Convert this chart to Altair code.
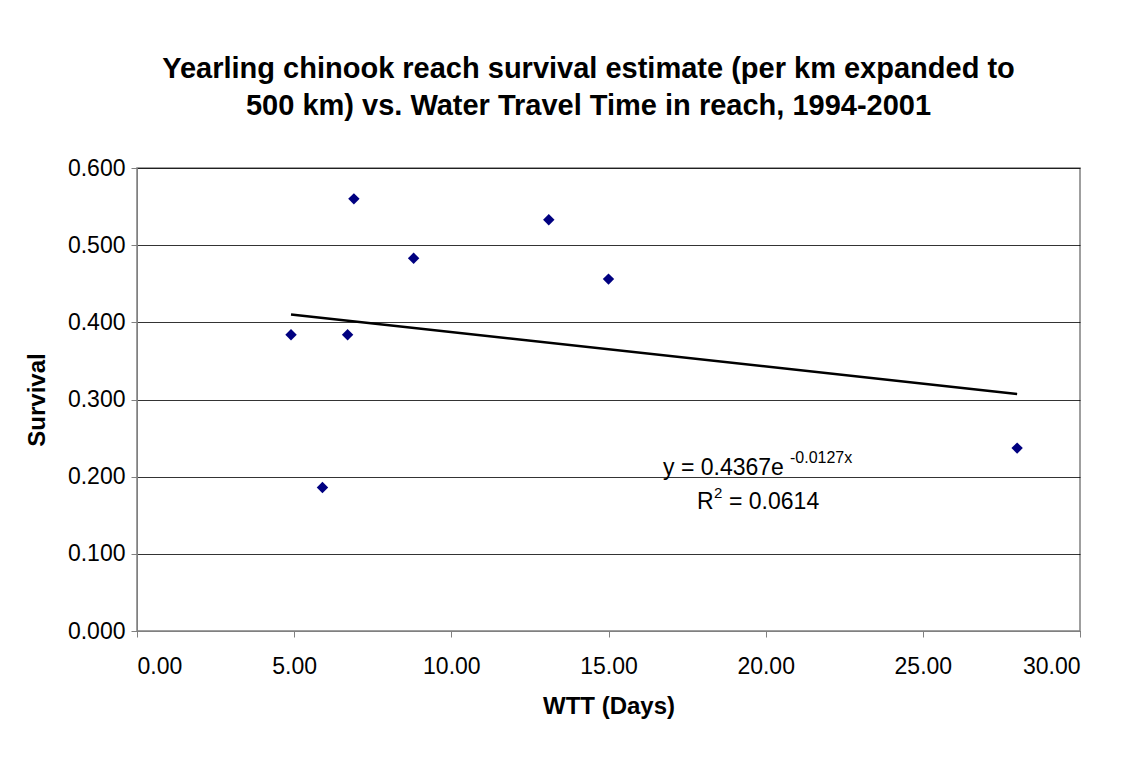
import altair as alt
import pandas as pd

wtt = [4.9, 5.9, 6.7, 6.9, 8.8, 13.1, 15.0, 28.0]
survival = [0.384, 0.186, 0.384, 0.560, 0.483, 0.533, 0.456, 0.237]

df = pd.DataFrame({"wtt": wtt, "survival": survival})
FONT = "Liberation Sans"

x = alt.X("wtt:Q", title="WTT (Days)", scale=alt.Scale(domain=[0, 30], nice=False),
          axis=alt.Axis(format=".2f", values=[0, 5, 10, 15, 20, 25, 30], grid=False,
                        titlePadding=16, labelPadding=18, labelFontSize=23, titleFontSize=24))
y = alt.Y("survival:Q", title="Survival", scale=alt.Scale(domain=[0, 0.6], nice=False),
          axis=alt.Axis(format=".3f", values=[0, 0.1, 0.2, 0.3, 0.4, 0.5, 0.6], grid=True,
                        gridColor="#000000", gridWidth=0.8, titlePadding=18, labelPadding=6,
                        labelFontSize=23, titleFontSize=24))

base = alt.Chart(df)
points = base.mark_point(shape="diamond", filled=True, color="#000080", size=130, opacity=1).encode(x=x, y=y)
# Excel-style exponential trendline: linear fit on ln(y)
trend = base.transform_calculate(lny="log(datum.survival)").transform_regression(
    "wtt", "lny", method="linear", extent=[4.9, 28]).transform_calculate(
    survival="exp(datum.lny)").mark_line(color="#000000", strokeWidth=2.5).encode(x=x, y=y)

def label(text, px, py, size):
    return alt.Chart(pd.DataFrame({"t": [text]})).mark_text(
        font=FONT, fontSize=size, color="#000000", align="left", baseline="alphabetic").encode(
        text="t:N", x=alt.value(px), y=alt.value(py))

eq = (label("y = 0.4367e", 526, 307, 23) + label("-0.0127x", 653, 295, 16)
      + label("R", 560, 341, 23) + label("2", 577, 330, 15) + label("= 0.0614", 592, 341, 23))

chart = (points + trend + eq).properties(
    width=943, height=463,
    autosize=alt.AutoSizeParams(type="none"),
    padding={"left": 129, "top": 160, "right": 40, "bottom": 120},
    title=alt.TitleParams(
        ["Yearling chinook reach survival estimate (per km expanded to",
         "500 km) vs. Water Travel Time in reach, 1994-2001"],
        font=FONT, fontSize=29, fontWeight="bold", anchor="middle", offset=36, lineHeight=37,
        dx=-20),
).configure_view(stroke="#808080", strokeWidth=1.5).configure_axis(
    labelFont=FONT, titleFont=FONT, titleFontWeight="bold",
    labelColor="#000000", titleColor="#000000", domainColor="#808080", tickColor="#808080",
    tickSize=6)

chart.save("out.html", embed_options={"renderer": "svg", "actions": False})
